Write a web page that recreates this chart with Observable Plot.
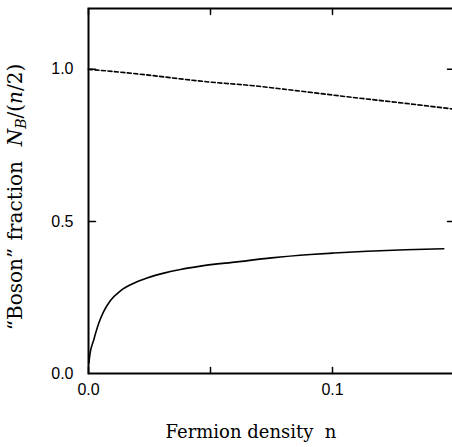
<!DOCTYPE html>
<html><head><meta charset="utf-8">
<script src="https://cdn.jsdelivr.net/npm/d3@7"></script>
<script src="https://cdn.jsdelivr.net/npm/@observablehq/plot@0.6"></script>
<style>
body{margin:0;background:#fff;}
svg{display:block;}
</style>
</head><body>
<div id="chart"></div>
<script>
// Solid curve: "boson" fraction vs fermion density
const solidX = [0.0002, 0.0005, 0.0022, 0.0042, 0.0063, 0.009, 0.0131, 0.0186, 0.024, 0.0309, 0.0377, 0.0459, 0.0609, 0.0750, 0.0910, 0.1005, 0.1142, 0.1300, 0.1456];
const solidY = [0.035, 0.059, 0.112, 0.165, 0.205, 0.240, 0.272, 0.297, 0.314, 0.330, 0.342, 0.353, 0.367, 0.380, 0.391, 0.396, 0.402, 0.407, 0.410];
// Dashed curve
const dashX = [0.0, 0.01, 0.02, 0.05, 0.0664, 0.085, 0.107, 0.13, 0.15];
const dashY = [1.0, 0.993, 0.985, 0.958, 0.947, 0.930, 0.909, 0.888, 0.869];
// Tick values
const xTicks = [0.0, 0.1];
const xMinor = [0.05];
const yTicks = [0.0, 0.5, 1.0];
const xDomain = [0, 0.15];
const yDomain = [0, 1.2];

const solid = solidX.map((x, i) => ({x, y: solidY[i]}));
const dashed = dashX.map((x, i) => ({x, y: dashY[i]}));

// simple line-shaped tick for vectors
const stick = {draw(context, l) { context.moveTo(0, 0); context.lineTo(0, -l); }};
const xTickMarks = xTicks.concat(xMinor);
const yTickMarks = yTicks.slice(1);

const plot = Plot.plot({
  width: 452,
  height: 447,
  marginLeft: 88,
  marginRight: -2,
  marginTop: 8,
  marginBottom: 74,
  style: {fontFamily: "'Liberation Sans', Arial, sans-serif", fontSize: "16px", background: "#fff", color: "#000"},
  x: {domain: xDomain},
  y: {domain: yDomain},
  marks: [
    Plot.axisX({ticks: xTicks, tickFormat: d3.format(".1f"), tickSize: 0, tickPadding: 10, label: null}),
    Plot.axisY({ticks: yTicks, tickFormat: d3.format(".1f"), tickSize: 0, tickPadding: 15, label: null}),
    // inward ticks on all four sides
    Plot.vector(xTickMarks, {x: d => d, y: () => yDomain[0], length: 6, rotate: 0, anchor: "start", shape: stick, stroke: "#000", strokeWidth: 1.5}),
    Plot.vector(xTickMarks, {x: d => d, y: () => yDomain[1], length: 6, rotate: 180, anchor: "start", shape: stick, stroke: "#000", strokeWidth: 1.5}),
    Plot.vector(yTickMarks, {x: () => xDomain[0], y: d => d, length: 7, rotate: 90, anchor: "start", shape: stick, stroke: "#000", strokeWidth: 1.5}),
    Plot.vector(yTickMarks, {x: () => xDomain[1], y: d => d, length: 7, rotate: -90, anchor: "start", shape: stick, stroke: "#000", strokeWidth: 1.5}),
    Plot.frame({stroke: "#000", strokeWidth: 2}),
    Plot.line(dashed, {x: "x", y: "y", stroke: "#000", strokeWidth: 1.6, strokeDasharray: "4,2.5", curve: "monotone-x"}),
    Plot.line(solid, {x: "x", y: "y", stroke: "#000", strokeWidth: 1.6, curve: "monotone-x"})
  ]
});

document.getElementById("chart").appendChild(plot);

const svg = d3.select(plot);
// x axis title
svg.append("text")
  .attr("x", 251).attr("y", 438)
  .attr("text-anchor", "middle")
  .attr("font-family", "'DejaVu Serif', serif")
  .attr("font-size", 18)
  .attr("fill", "#000")
  .text("Fermion density  n");
// y axis title (with italic and subscript)
const yt = svg.append("text")
  .attr("transform", "translate(22,197) rotate(-90)")
  .attr("text-anchor", "middle")
  .attr("font-family", "'DejaVu Serif', serif")
  .attr("font-size", 20)
  .attr("word-spacing", 1)
  .attr("fill", "#000");
yt.append("tspan").text("\u201CBoson\u201D fraction  ");
yt.append("tspan").attr("font-style", "italic").text("N");
yt.append("tspan").attr("font-style", "italic").attr("font-size", 14).attr("dy", 4).text("B");
yt.append("tspan").attr("dy", -4).text("/(");
yt.append("tspan").attr("font-style", "italic").text("n");
yt.append("tspan").text("/2)");
</script>
</body></html>
